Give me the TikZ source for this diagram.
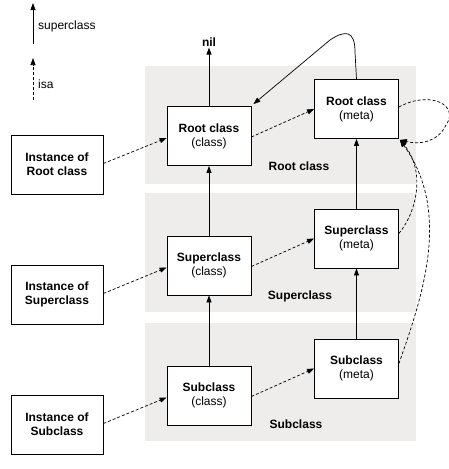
\documentclass[tikz,border=0pt]{standalone}
\usepackage{fontspec}
\setmainfont{Liberation Sans}
\usetikzlibrary{arrows.meta}
\definecolor{bandgray}{RGB}{238,237,235}
\begin{document}
\begin{tikzpicture}[x=1pt,y=-1pt,
  band/.style={fill=bandgray,draw=none},
  cbox/.style={draw,fill=white,line width=0.8pt,minimum width=84pt,minimum height=59pt,align=center,inner sep=0pt,font=\fontsize{12}{14}\selectfont},
  ibox/.style={draw,fill=white,line width=0.8pt,minimum width=92pt,minimum height=59pt,align=center,inner sep=0pt,font=\fontsize{12}{14}\selectfont\bfseries},
  blabel/.style={font=\fontsize{12}{14}\selectfont\bfseries,inner sep=0pt},
  lab/.style={font=\fontsize{12}{14}\selectfont,inner sep=0pt,anchor=west},
  tip/.style={-{Triangle[length=7pt,width=5pt]}},
  sup/.style={tip,line width=0.8pt},
  isa/.style={tip,line width=0.7pt,dash pattern=on 3pt off 2pt}]
\useasboundingbox (0,0) rectangle (448,469);
% bands
\fill[band] (145,66) rectangle (416,184);
\fill[band] (145,193) rectangle (416,312);
\fill[band] (145,323) rectangle (416,441);
\node[blabel] (lroot) at (299,166) {Root class};
\node[blabel] (lsup) at (300,296) {Superclass};
\node[blabel] (lsub) at (296,424) {Subclass};
% legend
\coordinate (s0) at (33,44); \coordinate (s1) at (33,3);
\draw[sup] (s0) -- (s1);
\node[lab] (ls) at (38,26) {superclass};
\coordinate (i0) at (33,100); \coordinate (i1) at (33,58);
\draw[isa] (i0) -- (i1);
\node[lab] (li) at (38,84) {isa};
% nil
\node[font=\fontsize{12}{14}\selectfont\bfseries,inner sep=1pt] (nil) at (209,42) {nil};
% boxes
\node[cbox] (rc) at (209,136) {\textbf{Root class}\\(class)};
\node[cbox] (rm) at (356.5,109) {\textbf{Root class}\\(meta)};
\node[cbox] (sc) at (209,265.5) {\textbf{Superclass}\\(class)};
\node[cbox] (sm) at (356.5,238.5) {\textbf{Superclass}\\(meta)};
\node[cbox] (bc) at (209,395.5) {\textbf{Subclass}\\(class)};
\node[cbox] (bm) at (356.5,368.5) {\textbf{Subclass}\\(meta)};
\node[ibox] (ir) at (57,164.5) {Instance of\\Root class};
\node[ibox] (is) at (57,294.5) {Instance of\\Superclass};
\node[ibox] (ib) at (57,424.5) {Instance of\\Subclass};
% superclass arrows
\draw[sup] (rc.north) -- (nil.south);
\draw[sup] (sc.north) -- (rc.south);
\draw[sup] (bc.north) -- (sc.south);
\draw[sup] (sm.north) -- (rm.south);
\draw[sup] (bm.north) -- (sm.south);
\draw[line width=0.7pt,-{Triangle[length=7pt,width=5pt]}] (rm.north) -- (355,52) .. controls (355,30) and (345,30) .. (330,40) -- ([xshift=2,yshift=2]rc.north east);
% isa arrows
\draw[isa] ([yshift=1]ir.east) -- ([yshift=-2]rc.west);
\draw[isa] ([yshift=1]is.east) -- ([yshift=-2]sc.west);
\draw[isa] ([yshift=1]ib.east) -- ([yshift=-2]bc.west);
\draw[isa] ([yshift=-1]rc.east) -- ([yshift=0]rm.west);
\draw[isa] ([yshift=-1]sc.east) -- ([yshift=0]sm.west);
\draw[isa] ([yshift=-1]bc.east) -- ([yshift=0]bm.west);
\coordinate (rmt) at ([xshift=1,yshift=-1]rm.south east);
\draw[isa] ([yshift=2]rm.east) .. controls (430,90) and (460,105) .. (446,125) .. controls (438,142) and (420,145) .. (rmt);
\draw[isa] ([yshift=5]sm.east) .. controls (418,210) and (425,170) .. (rmt);
\draw[isa] ([yshift=5]bm.east) .. controls (425,290) and (450,210) .. (rmt);
\end{tikzpicture}
\end{document}
